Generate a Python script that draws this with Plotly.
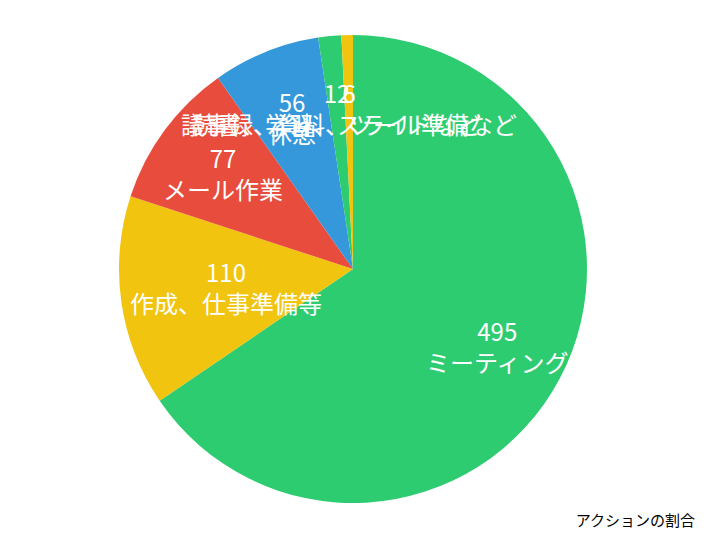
import math
import plotly.graph_objects as go

# 各アクションの時間（分）
actions = ["ミーティング", "作成、仕事準備等", "メール作業", "休憩",
           "読書、学習、スライドなど", "議事録、資料、ツール準備など"]
minutes = [495, 110, 77, 56, 12, 6]
slice_colors = ["#2ecc71", "#f1c40f", "#e74c3c", "#3498db", "#2ecc71", "#f1c40f"]

# ラベルを置く半径（円の半径に対する割合）
label_radius = [0.70, 0.55, 0.69, 0.70, 0.69, 0.69]

# plot area (page has an 8px body margin)
W, H = 706, 540
ML, MR, MT, MB = 0, 16, 27, 45
area_w = W - ML - MR
area_h = H - MT - MB
R = min(area_w, area_h) / 2

fig = go.Figure()
fig.add_trace(go.Pie(
    labels=actions,
    values=minutes,
    sort=False,
    direction="clockwise",
    marker=dict(colors=slice_colors, line=dict(width=0)),
    textinfo="none",
    hoverinfo="label+value",
))

# 値とラベルを各スライスの中央角に配置
total = sum(minutes)
cum = 0
for lab, val, f in zip(actions, minutes, label_radius):
    mid = (cum + val / 2) / total * 2 * math.pi
    cum += val
    x = 0.5 + f * R * math.sin(mid) / area_w
    y = 0.5 + f * R * math.cos(mid) / area_h
    fig.add_annotation(
        x=x, y=y, xref="paper", yref="paper",
        text=f"{val}<br>{lab}", showarrow=False,
        xanchor="center", yanchor="middle",
        font=dict(color="white", size=24, family="Noto Sans CJK JP"),
    )

fig.update_layout(
    width=W, height=H,
    showlegend=False,
    paper_bgcolor="white",
    margin=dict(l=ML, r=MR, t=MT, b=MB),
    title=dict(text="アクションの割合", x=0.973, xanchor="right",
               y=0.05, yanchor="middle",
               font=dict(size=15, color="black", family="Noto Sans CJK JP")),
)

fig.write_html("out.html")
